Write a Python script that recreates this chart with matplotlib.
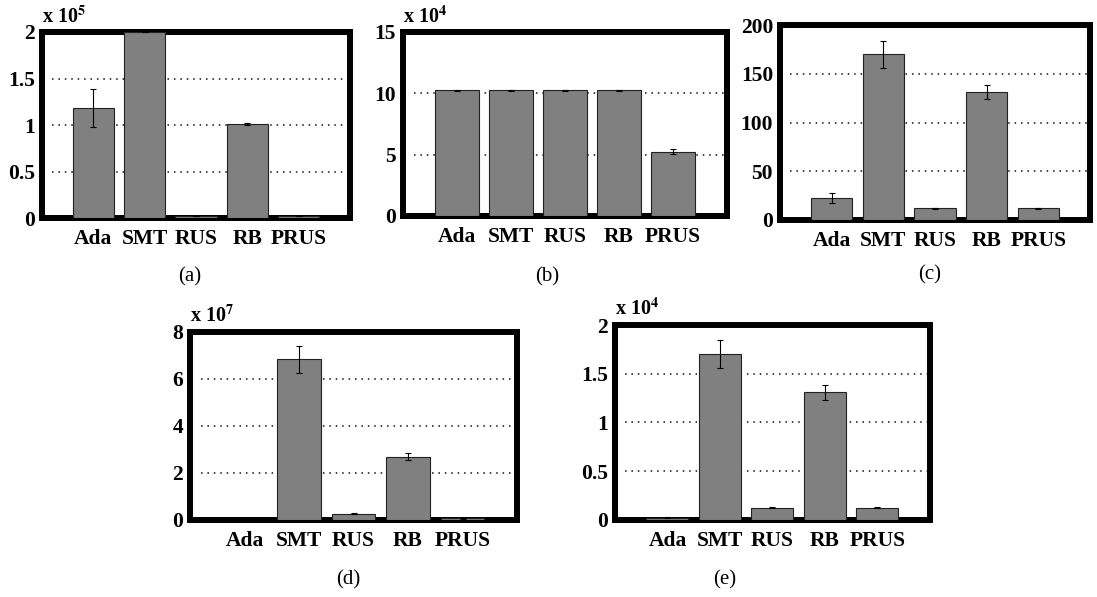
import numpy as np
import matplotlib
matplotlib.use('Agg')
import matplotlib.pyplot as plt

plt.rcParams['font.family'] = ['Liberation Serif', 'DejaVu Serif']
plt.rcParams['mathtext.fontset'] = 'stix'

methods = ['Ada', 'SMT', 'RUS', 'RB', 'PRUS']

# values are in units of 10^exponent, as printed on each panel
vals_a = [1.18, 2.0, 0.02, 1.01, 0.02]
err_a = [0.205, 0.0, 0.0, 0.01, 0.0]
vals_b = [10.24, 10.24, 10.24, 10.24, 5.25]
err_b = [0.04, 0.04, 0.04, 0.04, 0.2]
vals_c = [22.2, 170.0, 12.0, 131.0, 12.0]
err_c = [5.0, 14.0, 0.4, 7.3, 0.4]
vals_d = [0.01, 6.83, 0.26, 2.69, 0.07]
err_d = [0.0, 0.57, 0.02, 0.14, 0.01]
vals_e = [0.024, 1.70, 0.128, 1.31, 0.128]
err_e = [0.006, 0.143, 0.004, 0.078, 0.004]

panels = [
    dict(v=vals_a, e=err_a, ylim=2, ticks=[0, 0.5, 1, 1.5, 2], tl=['0', '0.5', '1', '1.5', '2'],
         exp=5, pos=[0.0383, 0.6348, 0.2808, 0.3116], cap='(a)', cxy=(190, 277)),
    dict(v=vals_b, e=err_b, ylim=15, ticks=[0, 5, 10, 15], tl=['0', '5', '10', '15'],
         exp=4, pos=[0.3674, 0.6382, 0.2954, 0.3082], cap='(b)', cxy=(547, 277)),
    dict(v=vals_c, e=err_c, ylim=200, ticks=[0, 50, 100, 150, 200], tl=['0', '50', '100', '150', '200'],
         exp=None, pos=[0.7110, 0.6315, 0.2826, 0.3266], cap='(c)', cxy=(930, 275)),
    dict(v=vals_d, e=err_d, ylim=8, ticks=[0, 2, 4, 6, 8], tl=['0', '2', '4', '6', '8'],
         exp=7, pos=[0.1732, 0.1290, 0.2981, 0.3149], cap='(d)', cxy=(348, 580)),
    dict(v=vals_e, e=err_e, ylim=2, ticks=[0, 0.5, 1, 1.5, 2], tl=['0', '0.5', '1', '1.5', '2'],
         exp=4, pos=[0.5606, 0.1290, 0.2871, 0.3266], cap='(e)', cxy=(725, 580)),
]

fig = plt.figure(figsize=(10.97, 5.97), dpi=100)
x = np.arange(1, len(methods) + 1)

for p in panels:
    ax = fig.add_axes(p['pos'])
    ax.set_axisbelow(True)
    ax.bar(x, p['v'], width=0.8, color='#808080', edgecolor='#222222', linewidth=0.8, zorder=2)
    ax.errorbar(x, p['v'], yerr=p['e'], fmt='none', ecolor='black', elinewidth=0.8,
                capsize=2.5, capthick=0.8, zorder=3)
    ax.set_xlim(0, 6)
    ax.set_ylim(0, p['ylim'])
    ax.set_yticks(p['ticks'])
    ax.set_yticklabels(p['tl'], fontsize=15.5, fontweight='bold')
    ax.set_xticks(x)
    ax.set_xticklabels(methods, fontsize=15.5, fontweight='bold')
    ax.tick_params(axis='y', length=0, pad=5)
    ax.tick_params(axis='x', length=0, pad=8)
    for t in p['ticks'][1:-1]:
        ax.plot([0.2, 5.95], [t, t], color='#111111', linestyle=(0, (1, 3.2)), linewidth=1.1, zorder=1)
    for s in ax.spines.values():
        s.set_linewidth(4.3)
        s.set_zorder(1.5)
    if p['exp'] is not None:
        ax.text(0.0, 1.025, 'x 10$^{\\mathbf{%d}}$' % p['exp'], transform=ax.transAxes,
                fontsize=14.5, fontweight='bold', ha='left', va='bottom')
    fig.text(p['cxy'][0] / 1097, 1 - p['cxy'][1] / 597, p['cap'], fontsize=15,
             ha='center', va='center')

fig.savefig('out.png', dpi=100)
